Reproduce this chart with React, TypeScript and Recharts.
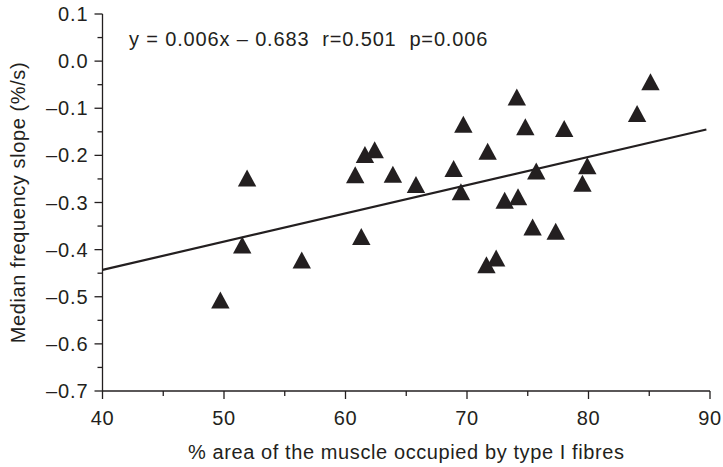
import { ScatterChart, Scatter, XAxis, YAxis, ReferenceLine } from "recharts";

// ── Data ─────────────────────────────────────────────────────────────────────

const typeIArea = [
    49.7, 51.5, 51.9, 56.4, 60.8, 61.3, 61.6, 62.4, 63.9, 65.8,
    68.9, 69.5, 69.7, 71.6, 71.7, 72.4, 73.1, 74.2, 74.1, 74.8,
    75.4, 75.7, 77.3, 78.0, 79.5, 79.9, 84.0, 85.1,
];
const mfSlope = [
    -0.507, -0.39, -0.248, -0.422, -0.241, -0.372, -0.198, -0.188, -0.24, -0.262,
    -0.228, -0.277, -0.134, -0.432, -0.191, -0.418, -0.295, -0.288, -0.076, -0.139,
    -0.352, -0.233, -0.361, -0.143, -0.259, -0.222, -0.111, -0.044,
];

// regression line y = 0.006x - 0.683 (end points as drawn)
const fitX = [40, 89.7];
const fitY = [-0.443, -0.145];

const xTicks = [40, 45, 50, 55, 60, 65, 70, 75, 80, 85, 90];
const yTicks = [-0.7, -0.65, -0.6, -0.55, -0.5, -0.45, -0.4, -0.35, -0.3, -0.25, -0.2, -0.15, -0.1, -0.05, 0, 0.05, 0.1];

const points = typeIArea.map((x, i) => ({ x, y: mfSlope[i] }));

// ── Style ────────────────────────────────────────────────────────────────────

const INK = "#231f20";
const FONT = "'Liberation Sans', Arial, Helvetica, sans-serif";
const FS = 20;
const LS = 0.6;

function fmtY(v: number): string {
    const s = Math.abs(v).toFixed(1);
    return v < 0 ? `\u2013${s}` : s;
}

function XTick({ x, y, payload }: any) {
    const major = payload.value % 10 === 0;
    return (
        <g>
            <line x1={x} x2={x} y1={y} y2={y + (major ? 8 : 5)} stroke={INK} strokeWidth={1.3} />
            {major && (
                <text x={x} y={y + 27} textAnchor="middle" dominantBaseline="central" fill={INK} fontSize={FS} letterSpacing={LS} fontFamily={FONT}>
                    {payload.value}
                </text>
            )}
        </g>
    );
}

function YTick({ x, y, payload }: any) {
    const major = Math.round(payload.value * 100) % 10 === 0;
    return (
        <g>
            <line x1={x} x2={x - (major ? 8 : 5)} y1={y} y2={y} stroke={INK} strokeWidth={1.3} />
            {major && (
                <text x={x - 14} y={y} textAnchor="end" dominantBaseline="central" fill={INK} fontSize={FS} letterSpacing={0.9} fontFamily={FONT}>
                    {fmtY(payload.value)}
                </text>
            )}
        </g>
    );
}

function Triangle({ cx, cy }: any) {
    const w = 9.2;
    const h = 8.5;
    return <polygon points={`${cx},${cy - h} ${cx - w},${cy + h} ${cx + w},${cy + h}`} fill={INK} />;
}

export default function App() {
    return (
        <div style={{ position: "absolute", left: 0, top: 0, width: 723, height: 467, background: "#fff" }}>
            <ScatterChart width={723} height={467} margin={{ top: 14, right: 13, bottom: 0, left: 0 }}>
                <XAxis
                    type="number"
                    dataKey="x"
                    domain={[40, 90]}
                    ticks={xTicks}
                    interval={0}
                    height={76}
                    tickSize={0}
                    tickMargin={0}
                    tickLine={false}
                    tick={<XTick />}
                    stroke={INK}
                    strokeWidth={1.3}
                    label={{
                        value: "% area of the muscle occupied by type I fibres",
                        position: "center",
                        dy: 23,
                        fill: INK,
                        fontSize: FS,
                        letterSpacing: LS,
                        fontFamily: FONT,
                    }}
                />
                <YAxis
                    type="number"
                    dataKey="y"
                    domain={[-0.7, 0.1]}
                    ticks={yTicks}
                    interval={0}
                    width={102.5}
                    tickSize={0}
                    tickMargin={0}
                    tickLine={false}
                    tick={<YTick />}
                    stroke={INK}
                    strokeWidth={1.3}
                    label={{
                        value: "Median frequency slope (%/s)",
                        angle: -90,
                        position: "center",
                        dx: -33,
                        fill: INK,
                        fontSize: FS,
                        letterSpacing: LS,
                        fontFamily: FONT,
                    }}
                />
                <ReferenceLine
                    segment={[
                        { x: fitX[0], y: fitY[0] },
                        { x: fitX[1], y: fitY[1] },
                    ]}
                    stroke={INK}
                    strokeWidth={2.2}
                    ifOverflow="visible"
                />
                <Scatter data={points} shape={<Triangle />} isAnimationActive={false} />
            </ScatterChart>
            <div
                style={{
                    position: "absolute",
                    left: 129,
                    top: 29,
                    fontFamily: FONT,
                    fontSize: FS,
                    letterSpacing: 0.85,
                    color: INK,
                    whiteSpace: "pre",
                    lineHeight: "20px",
                }}
            >
                {"y = 0.006x \u2013 0.683  r=0.501  p=0.006"}
            </div>
        </div>
    );
}
